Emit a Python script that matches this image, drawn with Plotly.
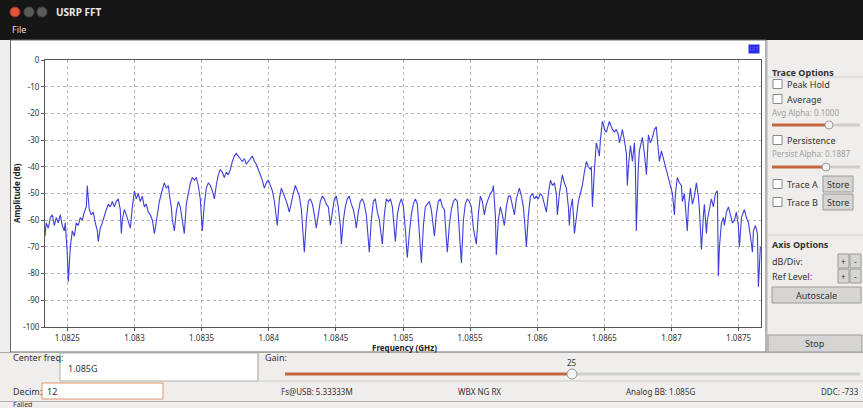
import plotly.graph_objects as go

# ---------------- data ----------------
freq_khz = [
    1082333, 1082343, 1082358, 1082373, 1082388, 1082403, 1082417, 1082432, 1082447, 1082462,
    1082477, 1082484, 1082492, 1082499, 1082507, 1082514, 1082522, 1082537, 1082552, 1082566,
    1082581, 1082596, 1082611, 1082626, 1082641, 1082648, 1082656, 1082663, 1082678, 1082693,
    1082708, 1082723, 1082730, 1082745, 1082760, 1082775, 1082790, 1082805, 1082820, 1082835,
    1082850, 1082864, 1082879, 1082894, 1082902, 1082909, 1082924, 1082939, 1082954, 1082969,
    1082984, 1082999, 1083013, 1083028, 1083043, 1083058, 1083073, 1083088, 1083103, 1083118,
    1083133, 1083148, 1083155, 1083170, 1083185, 1083200, 1083215, 1083222, 1083237, 1083252,
    1083259, 1083274, 1083282, 1083297, 1083311, 1083326, 1083341, 1083356, 1083371, 1083386,
    1083401, 1083416, 1083431, 1083446, 1083460, 1083475, 1083490, 1083505, 1083520, 1083535,
    1083550, 1083565, 1083580, 1083595, 1083609, 1083624, 1083639, 1083654, 1083669, 1083684,
    1083699, 1083714, 1083729, 1083744, 1083758, 1083773, 1083788, 1083803, 1083818, 1083833,
    1083848, 1083863, 1083878, 1083893, 1083907, 1083922, 1083937, 1083952, 1083967, 1083982,
    1083997, 1084012, 1084027, 1084042, 1084056, 1084064, 1084079, 1084094, 1084109, 1084123,
    1084138, 1084153, 1084168, 1084183, 1084198, 1084213, 1084228, 1084243, 1084258, 1084265,
    1084280, 1084295, 1084310, 1084325, 1084340, 1084354, 1084369, 1084384, 1084399, 1084414,
    1084429, 1084444, 1084459, 1084474, 1084489, 1084503, 1084518, 1084533, 1084541, 1084556,
    1084570, 1084585, 1084600, 1084615, 1084630, 1084645, 1084652, 1084667, 1084682, 1084697,
    1084712, 1084727, 1084742, 1084749, 1084764, 1084779, 1084794, 1084809, 1084824, 1084839,
    1084846, 1084861, 1084876, 1084891, 1084906, 1084921, 1084936, 1084943, 1084958, 1084973,
    1084988, 1085003, 1085017, 1085032, 1085047, 1085062, 1085077, 1085092, 1085107, 1085122,
    1085137, 1085152, 1085166, 1085181, 1085196, 1085211, 1085226, 1085234, 1085248, 1085263,
    1085278, 1085293, 1085308, 1085323, 1085330, 1085345, 1085360, 1085375, 1085390, 1085405,
    1085420, 1085435, 1085450, 1085464, 1085479, 1085494, 1085509, 1085524, 1085539, 1085546,
    1085561, 1085576, 1085591, 1085606, 1085621, 1085636, 1085651, 1085666, 1085673, 1085688,
    1085695, 1085710, 1085725, 1085740, 1085755, 1085770, 1085785, 1085800, 1085815, 1085830,
    1085844, 1085859, 1085867, 1085882, 1085897, 1085911, 1085919, 1085934, 1085949, 1085964,
    1085979, 1085993, 1086008, 1086023, 1086038, 1086053, 1086068, 1086083, 1086098, 1086113,
    1086128, 1086142, 1086150, 1086165, 1086180, 1086187, 1086202, 1086217, 1086232, 1086239,
    1086247, 1086262, 1086277, 1086291, 1086306, 1086321, 1086336, 1086351, 1086366, 1086381,
    1086396, 1086403, 1086411, 1086426, 1086440, 1086455, 1086463, 1086470, 1086478, 1086485,
    1086493, 1086500, 1086515, 1086530, 1086537, 1086552, 1086560, 1086575, 1086589, 1086604,
    1086612, 1086627, 1086634, 1086649, 1086664, 1086671, 1086679, 1086694, 1086709, 1086724,
    1086731, 1086738, 1086746, 1086753, 1086761, 1086776, 1086783, 1086798, 1086813, 1086820,
    1086828, 1086843, 1086858, 1086873, 1086887, 1086895, 1086910, 1086925, 1086940, 1086954,
    1086962, 1086977, 1086992, 1087007, 1087022, 1087029, 1087044, 1087059, 1087074, 1087081,
    1087096, 1087111, 1087118, 1087126, 1087141, 1087156, 1087171, 1087185, 1087200, 1087208,
    1087215, 1087223, 1087238, 1087245, 1087260, 1087267, 1087282, 1087297, 1087312, 1087327,
    1087342, 1087349, 1087357, 1087372, 1087387, 1087394, 1087409, 1087424, 1087439, 1087454,
    1087469, 1087483, 1087498, 1087506, 1087521, 1087536, 1087543, 1087558, 1087573, 1087588,
    1087603, 1087610, 1087625, 1087640, 1087647, 1087662,
]

amp_db = [
    -66, -61, -63, -59, -58, -62, -59, -61, -58, -62,
    -64, -61, -67, -72, -83, -76, -70, -64, -66, -61,
    -62, -59, -60, -57, -55, -47, -53, -56, -58, -57,
    -61, -64, -68, -63, -61, -58, -56, -54, -55, -53,
    -55, -53, -52, -56, -65, -60, -56, -58, -61, -63,
    -55, -49, -52, -50, -53, -51, -55, -54, -57, -58,
    -60, -65, -63, -57, -53, -50, -47, -46, -48, -47,
    -50, -55, -60, -64, -57, -53, -55, -60, -65, -54,
    -50, -46, -44, -45, -44, -47, -52, -64, -54, -48,
    -46, -47, -49, -52, -47, -43, -41, -42, -44, -42,
    -43, -41, -38, -36, -35, -36, -37, -38, -37, -39,
    -38, -37, -36, -38, -39, -41, -43, -45, -48, -46,
    -45, -47, -49, -53, -58, -62, -52, -48, -50, -52,
    -54, -57, -53, -50, -47, -49, -51, -56, -65, -72,
    -60, -53, -52, -54, -58, -63, -58, -53, -51, -52,
    -54, -55, -62, -57, -52, -51, -55, -62, -69, -60,
    -55, -52, -51, -54, -56, -60, -63, -57, -53, -52,
    -54, -58, -66, -72, -60, -53, -52, -57, -60, -66,
    -69, -58, -52, -53, -52, -55, -63, -68, -58, -54,
    -52, -55, -63, -74, -65, -58, -54, -52, -54, -64,
    -76, -62, -55, -54, -53, -56, -62, -66, -58, -53,
    -52, -55, -56, -66, -72, -62, -56, -53, -52, -53,
    -63, -76, -60, -54, -52, -53, -55, -63, -67, -69,
    -58, -51, -53, -58, -54, -52, -50, -49, -47, -58,
    -73, -60, -55, -58, -62, -55, -51, -51, -55, -58,
    -52, -49, -48, -51, -55, -64, -70, -58, -51, -50,
    -52, -51, -52, -50, -51, -54, -57, -50, -45, -47,
    -46, -50, -58, -50, -45, -43, -46, -48, -55, -62,
    -56, -52, -65, -58, -53, -50, -47, -42, -38, -40,
    -41, -40, -55, -41, -31, -34, -36, -30, -27, -23,
    -24, -26, -27, -24, -23, -25, -26, -27, -26, -28,
    -31, -28, -26, -30, -35, -47, -40, -32, -38, -31,
    -40, -64, -50, -40, -34, -31, -29, -35, -43, -36,
    -28, -31, -29, -26, -25, -30, -38, -34, -37, -40,
    -42, -44, -47, -50, -58, -50, -44, -46, -47, -53,
    -50, -58, -64, -55, -48, -54, -51, -46, -51, -56,
    -63, -71, -58, -54, -65, -60, -56, -52, -55, -50,
    -49, -81, -70, -61, -59, -62, -57, -55, -58, -61,
    -60, -57, -62, -70, -59, -57, -56, -59, -61, -66,
    -72, -64, -62, -65, -85, -70,
]
assert len(freq_khz) == len(amp_db)
freq_ghz = [f / 1e6 for f in freq_khz]

center_ghz = 1.085
sample_rate_ghz = 0.00533333
x_tick_vals = [1.0825, 1.083, 1.0835, 1.084, 1.0845, 1.085, 1.0855, 1.086, 1.0865, 1.087, 1.0875]
x_tick_text = ["1.0825", "1.083", "1.0835", "1.084", "1.0845", "1.085", "1.0855", "1.086",
               "1.0865", "1.087", "1.0875"]
y_tick_vals = [0, -10, -20, -30, -40, -50, -60, -70, -80, -90, -100]
y_tick_text = ["0", "-10", "-20", "-30", "-40", "-50", "-60", "-70", "-80", "-90", "-100"]

# ---------------- geometry helpers (pixel -> paper) ----------------
W, H = 863, 408
PL, PR, PT, PB = 45, 761, 60, 327
FONT = "Noto Sans, DejaVu Sans, sans-serif"


def px(x):
    return (x - PL) / (PR - PL)


def py(y):
    return (PB - y) / (PB - PT)


shapes, anns = [], []


def rect(x0, y0, x1, y1, fill, line=None, lw=1, layer="below"):
    shapes.append(dict(type="rect", xref="paper", yref="paper",
                       x0=px(x0), x1=px(x1), y0=py(y1), y1=py(y0),
                       fillcolor=fill, layer=layer,
                       line=dict(color=line if line else fill, width=lw if line else 0)))


def seg(x0, y0, x1, y1, color, w=1, layer="below"):
    shapes.append(dict(type="line", xref="paper", yref="paper",
                       x0=px(x0), x1=px(x1), y0=py(y0), y1=py(y1),
                       line=dict(color=color, width=w), layer=layer))


def circ(cx, cy, r, fill, line, lw=1, layer="below"):
    shapes.append(dict(type="circle", xref="paper", yref="paper",
                       x0=px(cx - r), x1=px(cx + r), y0=py(cy + r), y1=py(cy - r),
                       fillcolor=fill, line=dict(color=line, width=lw), layer=layer))


def text(x, y, s, size=9, color="#333333", anchor="left", bold=False, angle=0, bg=None):
    d = dict(xref="paper", yref="paper", x=px(x), y=py(y),
             text=f"<b>{s}</b>" if bold else s, showarrow=False,
             xanchor=anchor, yanchor="middle", textangle=angle,
             font=dict(size=size, color=color, family=FONT), borderpad=0)
    if bg:
        d["bgcolor"] = bg
    anns.append(d)


def checkbox(x, y):
    rect(x, y - 4.5, x + 9, y + 4.5, "#ffffff", "#8a8a8a")


def button(x0, y0, x1, y1, label, size=9):
    rect(x0, y0, x1, y1, "#d6d5d3", "#9a9a9a")
    text((x0 + x1) / 2, (y0 + y1) / 2, label, size=size, color="#333333", anchor="center")


# ---------------- window chrome ----------------
rect(0, 0, 863, 40, "#161616")
circ(15, 12, 5, "#e0563b", "#9a3020")
circ(29, 12, 5, "#5a5a58", "#444444")
circ(42, 12, 5, "#5a5a58", "#444444")
text(55, 12, "USRP FFT", size=10, color="#e8e8e8", bold=True)
text(11, 30, "File", size=9, color="#dddddd")

# plot panel
rect(10.5, 40, 766, 352, "#ffffff", "#6a6a6a")
seg(767, 40, 767, 352, "#b8b8b8")

# legend chip
text(754, 49, "FFT", size=6, color="#5a5aff", anchor="center", bg="#2d2de6")

# axis titles
text(404, 347, "Frequency (GHz)", size=8, color="#222222", anchor="center", bold=True)
text(16, 193, "Amplitude (dB)", size=8, color="#222222", anchor="center", bold=True, angle=-90)

# ---------------- right control panel ----------------
seg(768, 77, 863, 77, "#cfcfcf")
text(771, 72, "Trace Options", size=9, color="#333333", bold=True)
checkbox(773, 84)
text(786, 84, "Peak Hold")
checkbox(773, 99)
text(786, 99, "Average")
text(771, 112, "Avg Alpha: 0.1000", size=8, color="#a0a0a0")
seg(829, 125, 860, 125, "#cfcfcf", 3)
seg(772, 125, 829, 125, "#c5673e", 3)
circ(829, 125, 4, "#f4f4f4", "#9a9a9a")
checkbox(773, 140)
text(786, 140, "Persistence")
text(771, 153, "Persist Alpha: 0.1887", size=8, color="#a0a0a0")
seg(826, 167, 860, 167, "#cfcfcf", 3)
seg(772, 167, 826, 167, "#c5673e", 3)
circ(826, 167, 4, "#f4f4f4", "#9a9a9a")
checkbox(773, 184)
text(786, 184, "Trace A")
button(823, 176, 853, 192, "Store")
checkbox(773, 202)
text(786, 202, "Trace B")
button(823, 194, 853, 210, "Store")

seg(768, 235, 863, 235, "#cfcfcf")
text(771, 244, "Axis Options", size=9, color="#333333", bold=True)
text(771, 261, "dB/Div:")
button(838, 254, 849, 268, "+", size=8)
button(850, 254, 861, 268, "-", size=8)
text(771, 276, "Ref Level:")
button(838, 269, 849, 283, "+", size=8)
button(850, 269, 861, 283, "-", size=8)
button(772, 287, 861, 303, "Autoscale")
button(768, 335, 862, 352, "Stop")

# ---------------- bottom controls ----------------
seg(0, 352.5, 863, 352.5, "#a8a8a8")
text(12, 357, "Center freq:", size=9)
rect(60, 353, 258, 381, "#ffffff", "#b0b0b0")
text(67, 368, "1.085G", size=9)
seg(258, 353, 258, 381, "#c0c0c0")
text(264, 357, "Gain:", size=9)
text(572, 362, "25", size=8, anchor="center")
seg(572, 374, 860, 374, "#d0d0d0", 3)
seg(285, 374, 572, 374, "#c5673e", 3)
circ(572, 374, 5, "#f4f4f4", "#9a9a9a")
seg(258, 381, 863, 381, "#cccccc")

text(12, 391, "Decim:", size=9)
rect(42, 383, 163, 399, "#ffffff", "#e0946a")
text(46, 391, "12", size=9)
text(280, 391, "Fs@USB: 5.33333M", size=8)
text(457, 391, "WBX NG RX", size=8)
text(625, 391, "Analog BB: 1.085G", size=8)
text(820, 391, "DDC: -733", size=8)
seg(0, 401.5, 863, 401.5, "#b0b0b0")
text(12, 404.5, "Failed", size=7)

# ---------------- figure ----------------
fig = go.Figure()
fig.add_trace(go.Scatter(x=freq_ghz, y=amp_db, mode="lines", name="FFT",
                         line=dict(color="#3f3fdc", width=1.1), hoverinfo="x+y"))

axis_common = dict(showgrid=True, gridcolor="#b4b4b4", griddash="dot", gridwidth=1,
                   showline=True, linecolor="#555555", linewidth=1, mirror=True,
                   ticks="outside", ticklen=3, tickcolor="#555555", zeroline=False,
                   tickfont=dict(size=8, color="#333333", family=FONT))

fig.update_layout(
    width=W, height=H,
    margin=dict(l=PL, r=W - PR, t=PT, b=H - PB, pad=0),
    paper_bgcolor="#efeeec", plot_bgcolor="#ffffff",
    showlegend=False, font=dict(family=FONT),
    xaxis=dict(range=[center_ghz - sample_rate_ghz / 2, center_ghz + sample_rate_ghz / 2],
               tickvals=x_tick_vals, ticktext=x_tick_text, **axis_common),
    yaxis=dict(range=[-100, 0], tickvals=y_tick_vals, ticktext=y_tick_text, **axis_common),
    shapes=shapes, annotations=anns,
)

fig.write_html("out.html", config={"displayModeBar": False},
               post_script="document.body.style.margin='0px';document.body.style.overflow='hidden';")
